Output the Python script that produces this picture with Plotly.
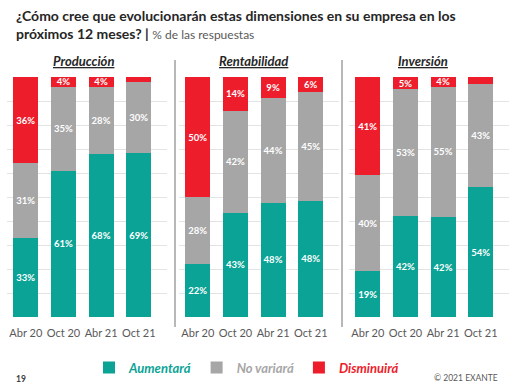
import plotly.graph_objects as go

W, H = 511, 389

periods = ["Abr 20", "Oct 20", "Abr 21", "Oct 21"]
panels = ["Producción", "Rentabilidad", "Inversión"]
series_names = ["Aumentará", "No variará", "Disminuirá"]

# values per panel: Aumentará, No variará, Disminuirá
produccion_aumentara = [33, 61, 68, 69]
produccion_no_variara = [31, 35, 28, 30]
produccion_disminuira = [36, 4, 4, 2]

rentabilidad_aumentara = [22, 43, 48, 48]
rentabilidad_no_variara = [28, 42, 44, 45]
rentabilidad_disminuira = [50, 14, 9, 6]

inversion_aumentara = [19, 42, 42, 54]
inversion_no_variara = [40, 53, 55, 43]
inversion_disminuira = [41, 5, 4, 3]

data = [
    [produccion_aumentara, produccion_no_variara, produccion_disminuira],
    [rentabilidad_aumentara, rentabilidad_no_variara, rentabilidad_disminuira],
    [inversion_aumentara, inversion_no_variara, inversion_disminuira],
]

colors = ["#0BA396", "#A6A6A6", "#EE1D2C"]
FONT = "Lato"

# panel horizontal domains in pixels
dom_px = [(7, 167), (179, 339), (349, 509)]
y_dom = (1 - 317 / H, 1 - 77 / H)

fig = go.Figure()
for p, (panel, vals) in enumerate(zip(panels, data)):
    xa = "x" if p == 0 else f"x{p+1}"
    ya = "y" if p == 0 else f"y{p+1}"
    for s, (name, v) in enumerate(zip(series_names, vals)):
        fig.add_trace(go.Bar(
            x=periods, y=v, name=f"<b><i><span style='color:{colors[s]}'>{name}</span></i></b>",
            marker=dict(color=colors[s], line=dict(width=0)),
            text=[f"{t}%" if t >= 4 else "" for t in v],
            textposition="inside", insidetextanchor="middle", textangle=0,
            textfont=dict(color="white", size=9.5, family=FONT, weight="bold"),
            xaxis=xa, yaxis=ya, showlegend=(p == 0), legendgroup=name,
            hoverinfo="skip",
        ))

layout = dict(
    width=W, height=H, autosize=False,
    margin=dict(l=0, r=0, t=0, b=0),
    paper_bgcolor="white", plot_bgcolor="white",
    barmode="stack", barnorm="percent", bargap=0.33,
    font=dict(family=FONT, color="#595959"),
    uniformtext=dict(minsize=9, mode="show"),
    legend=dict(orientation="h", x=89 / W, y=1 - 367.5 / H, xanchor="left", yanchor="middle",
                font=dict(size=13, family=FONT),
                itemclick=False, itemdoubleclick=False, bgcolor="rgba(0,0,0,0)"),
    showlegend=True,
)
for p in range(3):
    k = "" if p == 0 else str(p + 1)
    layout[f"xaxis{k}"] = dict(domain=[dom_px[p][0] / W, dom_px[p][1] / W], anchor=f"y{k}",
                               range=[-0.5, 3.75], showgrid=False, zeroline=False, showline=False,
                               ticks="", ticklabelstandoff=8,
                               tickfont=dict(size=11, color="#595959", family=FONT), fixedrange=True)
    layout[f"yaxis{k}"] = dict(domain=list(y_dom), anchor=f"x{k}", range=[0, 100], dtick=10,
                               showgrid=True, gridcolor="#E3E3E3", gridwidth=1, zeroline=False,
                               showticklabels=False, showline=False, fixedrange=True)
fig.update_layout(**layout)

annotations = [
    dict(text="<b>¿Cómo cree que evolucionarán estas dimensiones en su empresa en los</b>",
         x=14 / W, y=1 - 15 / H, font=dict(size=14, color="#262626", family=FONT)),
    dict(text="<b>próximos 12 meses? |</b> <span style='font-size:12px;color:#595959'>% de las respuestas</span>",
         x=14 / W, y=1 - 34 / H, font=dict(size=14, color="#262626", family=FONT)),
    dict(text="<b>19</b>", x=14 / W, y=1 - 379 / H, font=dict(size=8.5, color="#404040", family=FONT)),
    dict(text="© 2021 EXANTE", x=500 / W, y=1 - 378 / H, xanchor="right",
         font=dict(size=8.5, color="#595959", family=FONT)),
]
for a in annotations:
    a.setdefault("xanchor", "left")
    a.update(xref="paper", yref="paper", yanchor="middle", showarrow=False)
title_x = [83, 253, 423]
for p, panel in enumerate(panels):
    annotations.append(dict(text=f"<b><i><u>{panel}</u></i></b>", x=title_x[p] / W, y=1 - 61 / H,
                            xref="paper", yref="paper", xanchor="center", yanchor="middle",
                            showarrow=False, font=dict(size=13, color="#262626", family=FONT)))
fig.update_layout(annotations=annotations)

for xs in (175, 342):
    fig.add_shape(type="line", xref="paper", yref="paper", x0=xs / W, x1=xs / W,
                  y0=1 - 327 / H, y1=1 - 60 / H, line=dict(color="#A0A0A0", width=1.5))

fig.write_html("out.html", config={"displayModeBar": False, "staticPlot": True},
               post_script="document.body.style.margin='0';document.body.style.overflow='hidden';")
